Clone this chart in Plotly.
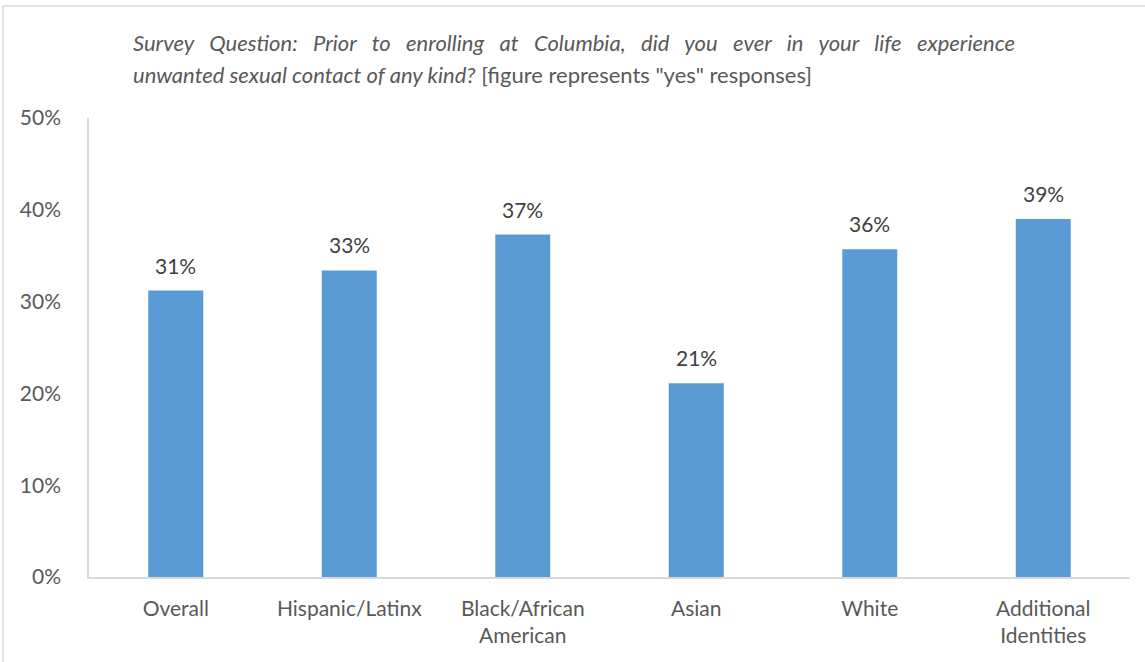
import plotly.graph_objects as go

categories = ["Overall", "Hispanic/Latinx", "Black/African<br>American", "Asian", "White", "Additional<br>Identities"]
values = [0.312, 0.334, 0.373, 0.211, 0.357, 0.390]
labels = ["31%", "33%", "37%", "21%", "36%", "39%"]
y_ticks = [0, 0.1, 0.2, 0.3, 0.4, 0.5]
y_tick_text = ["0%", "10%", "20%", "30%", "40%", "50%"]

FONT = "Lato, 'Open Sans', sans-serif"
W, H = 1145, 662
ml, mr, mt, mb = 89, 15, 118, 85

fig = go.Figure(go.Bar(
    x=categories, y=values,
    marker=dict(color="#5B9BD5", line=dict(width=0)),
    width=0.317, hoverinfo="skip",
))

pw = W - ml - mr
ph = H - mt - mb
def px(x):
    return (x - ml) / pw
def py(y):
    return (H - mb - y) / ph

annotations = [
    dict(x=c, y=v, xref="x", yref="y", text=t, showarrow=False, yanchor="bottom",
         yshift=11, font=dict(family=FONT, size=21, color="#404040"))
    for c, v, t in zip(categories, values, labels)
]

sp = "&nbsp;&nbsp;&nbsp;"
line1_words = ["Survey", "Question:", "Prior", "to", "enrolling", "at", "Columbia,", "did", "you",
               "ever", "in", "your", "life", "experience"]
line1 = "<i>" + sp.join(line1_words) + "</i>"
annotations += [
    dict(xref="paper", yref="paper", x=px(131), y=py(43), xanchor="left", yanchor="middle",
         text=line1, showarrow=False, font=dict(family=FONT, size=22, color="#595959")),
    dict(xref="paper", yref="paper", x=px(131), y=py(74), xanchor="left", yanchor="middle",
         text="<i>unwanted sexual contact of any kind?</i> [figure represents \"yes\" responses]",
         showarrow=False, font=dict(family=FONT, size=22, color="#595959")),
]

fig.update_layout(
    width=W, height=H,
    margin=dict(l=ml, r=mr, t=mt, b=mb),
    paper_bgcolor="white", plot_bgcolor="white",
    showlegend=False,
    font=dict(family=FONT, size=21, color="#595959"),
    xaxis=dict(showline=True, linecolor="#d9d9d9", linewidth=1.5, ticks="",
               tickfont=dict(family=FONT, size=21, color="#595959"),
               ticklabelstandoff=12, fixedrange=True),
    yaxis=dict(range=[0, 0.5], tickvals=y_ticks, ticktext=y_tick_text,
               showgrid=False, zeroline=False, showline=True, linecolor="#d9d9d9",
               linewidth=1.5, ticks="", ticklabelstandoff=22,
               tickfont=dict(family=FONT, size=21, color="#595959")),
    annotations=annotations,
    shapes=[
        dict(type="line", xref="paper", yref="paper", x0=px(3), x1=px(1145), y0=py(6), y1=py(6),
             line=dict(color="#d9d9d9", width=1.5)),
        dict(type="line", xref="paper", yref="paper", x0=px(3), x1=px(3), y0=py(6), y1=py(662),
             line=dict(color="#d9d9d9", width=1.5)),
    ],
)

fig.write_html("out.html", config={"displayModeBar": False},
               post_script="document.body.style.margin='0';document.body.style.overflow='hidden';")
